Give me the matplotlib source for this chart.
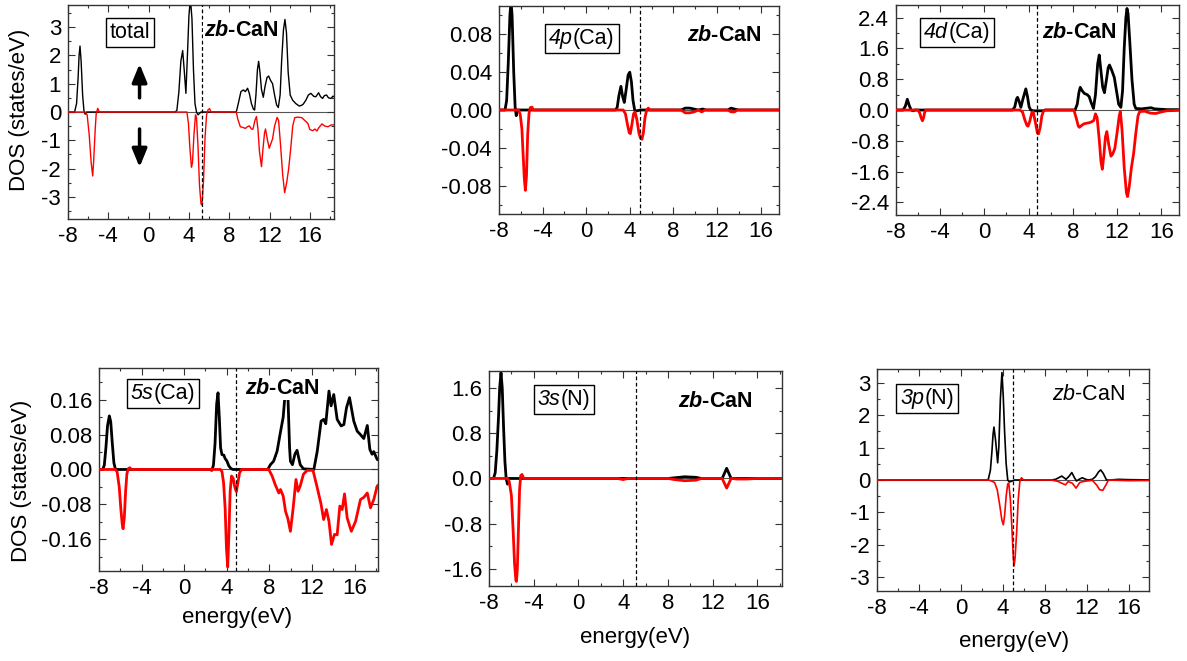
import numpy as np
import matplotlib
matplotlib.use('Agg')
import matplotlib.pyplot as plt
from matplotlib.ticker import MultipleLocator, FormatStrFormatter
from matplotlib.patches import Rectangle
from matplotlib.transforms import IdentityTransform

plt.rcParams['font.family'] = 'Liberation Sans'
plt.rcParams['axes.unicode_minus'] = False
plt.rcParams['mathtext.fontset'] = 'custom'
plt.rcParams['mathtext.rm'] = 'Liberation Sans'
plt.rcParams['mathtext.it'] = 'Liberation Sans:italic'
plt.rcParams['mathtext.bf'] = 'Liberation Sans:bold'
plt.rcParams['mathtext.bfit'] = 'Liberation Sans:bold:italic'

# spin-resolved DOS of zb-CaN, (energy eV, states/eV) pairs
tot_up = [(-8, 0), (-7.35, 0), (-7.15, 0.3), (-7.0, 1.2), (-6.9, 2.0), (-6.81, 2.33), (-6.7, 1.8), (-6.55, 0.6),
          (-6.42, 0.05), (-6.3, -0.08), (-6.15, 0),
          (2.6, 0), (2.8, 0.05), (3.0, 0.7), (3.2, 1.8), (3.38, 2.17), (3.55, 1.4), (3.7, 0.66), (3.85, 2.0),
          (4.0, 3.4), (4.15, 4.0), (4.3, 3.3), (4.45, 1.5), (4.6, 0.3), (4.75, 0), (4.9, -0.1), (5.05, -0.05), (5.2, 0),
          (8.7, 0), (8.9, 0.3), (9.16, 0.72), (9.4, 0.78), (9.6, 0.72), (9.82, 0.84), (10.0, 0.65), (10.2, 0.3),
          (10.4, 0.1), (10.52, 0.07), (10.65, 0.6), (10.8, 1.5), (10.92, 1.79), (11.05, 1.4), (11.2, 0.8),
          (11.38, 0.52), (11.55, 0.9), (11.75, 1.22), (11.91, 1.27), (12.1, 1.12), (12.3, 1.0), (12.5, 0.6),
          (12.7, 0.25), (12.87, 0.16), (13.05, 0.6), (13.2, 1.8), (13.38, 2.9), (13.53, 3.27), (13.68, 2.8),
          (13.85, 1.4), (14.05, 0.6), (14.29, 0.42), (14.6, 0.3), (14.95, 0.21), (15.2, 0.24), (15.35, 0.28),
          (15.61, 0.42), (15.85, 0.6), (16.1, 0.66), (16.4, 0.55), (16.6, 0.54), (16.87, 0.68), (17.05, 0.55),
          (17.26, 0.48), (17.45, 0.58), (17.66, 0.6), (17.85, 0.5), (18.09, 0.48), (18.3, 0.56), (18.5, 0.52)]
tot_dn = [(-8, 0), (-6.3, 0), (-6.1, -0.1), (-5.9, -0.8), (-5.7, -1.8), (-5.55, -2.26), (-5.45, -1.7), (-5.3, -0.6),
          (-5.2, -0.05), (-5.05, 0.13), (-4.9, 0),
          (3.8, 0), (3.95, -0.4), (4.1, -1.3), (4.25, -1.95), (4.35, -1.8), (4.5, -0.8), (4.65, -0.1), (4.75, -0.2),
          (4.9, -1.2), (5.05, -2.6), (5.2, -3.25), (5.3, -3.29), (5.45, -2.4), (5.6, -0.9), (5.75, -0.1), (5.9, 0.08),
          (6.05, 0.12), (6.2, 0),
          (8.7, 0), (8.85, -0.25), (9.1, -0.52), (9.4, -0.55), (9.6, -0.58), (9.8, -0.52), (10.0, -0.49), (10.2, -0.6),
          (10.35, -0.61), (10.55, -0.3), (10.7, -0.16), (10.85, -0.6), (11.0, -1.4), (11.2, -1.93), (11.35, -1.3),
          (11.5, -0.75), (11.6, -0.6), (11.8, -1.0), (11.97, -1.28), (12.15, -1.1), (12.3, -0.95), (12.5, -0.5),
          (12.75, -0.19), (12.9, -0.3), (13.1, -1.2), (13.3, -2.2), (13.5, -2.85), (13.7, -2.5), (13.9, -2.0),
          (14.1, -1.3), (14.3, -0.5), (14.5, -0.2), (14.8, -0.18), (15.2, -0.2), (15.5, -0.3), (15.8, -0.4),
          (16.0, -0.62), (16.3, -0.66), (16.5, -0.6), (16.7, -0.67), (16.9, -0.55), (17.2, -0.42), (17.5, -0.5),
          (17.8, -0.52), (18.1, -0.46), (18.5, -0.45)]

ca4p_up = [(-8, 0), (-7.45, 0), (-7.3, 0.01), (-7.15, 0.05), (-7.0, 0.1), (-6.9, 0.115), (-6.8, 0.1), (-6.65, 0.04),
           (-6.52, 0.003), (-6.42, -0.006), (-6.3, 0),
           (2.7, 0), (2.85, 0.003), (3.0, 0.015), (3.19, 0.025), (3.35, 0.014), (3.5, 0.008), (3.65, 0.02),
           (3.85, 0.037), (4.0, 0.04), (4.15, 0.03), (4.3, 0.01), (4.45, 0), (4.6, -0.001), (5.0, 0),
           (8.7, 0), (9.1, 0.002), (9.5, 0.002), (9.9, 0.001), (10.3, 0), (10.7, 0.001), (11.0, 0), (13.0, 0),
           (13.3, 0.002), (13.6, 0.001), (14.0, 0), (18.5, 0)]
ca4p_dn = [(-8, 0), (-6.2, 0), (-6.05, -0.005), (-5.9, -0.02), (-5.8, -0.044), (-5.68, -0.072), (-5.58, -0.085),
           (-5.48, -0.07), (-5.37, -0.026), (-5.25, -0.004), (-5.13, 0.0025), (-4.97, 0.003), (-4.85, 0),
           (3.4, 0), (3.6, -0.004), (3.8, -0.016), (3.95, -0.024), (4.05, -0.025), (4.2, -0.015), (4.35, -0.004),
           (4.48, -0.002), (4.65, -0.01), (4.85, -0.025), (5.0, -0.03), (5.12, -0.031), (5.25, -0.024),
           (5.4, -0.008), (5.55, 0), (5.7, 0.002), (5.85, 0),
           (8.7, 0), (9.1, -0.003), (9.5, -0.003), (9.9, -0.002), (10.3, 0), (10.6, -0.002), (10.9, 0), (13.0, 0),
           (13.3, -0.002), (13.6, -0.002), (13.9, 0), (18.5, 0)]

ca4d_up = [(-8, 0), (-7.35, 0), (-7.15, 0.1), (-6.97, 0.28), (-6.8, 0.12), (-6.62, 0), (-6.45, -0.02), (-6.3, 0),
           (2.55, 0), (2.75, 0.08), (2.9, 0.28), (3.0, 0.33), (3.15, 0.22), (3.3, 0.07), (3.5, 0.3), (3.75, 0.55),
           (3.9, 0.35), (4.05, 0.08), (4.2, 0), (4.4, -0.02), (5.3, -0.02), (5.5, 0),
           (8.2, 0), (8.4, 0.15), (8.55, 0.45), (8.67, 0.59), (8.85, 0.5), (9.05, 0.43), (9.3, 0.4), (9.48, 0.35),
           (9.65, 0.2), (9.87, 0.04), (10.05, 0.4), (10.25, 1.2), (10.39, 1.43), (10.55, 1.0), (10.7, 0.6),
           (10.86, 0.45), (11.05, 0.8), (11.2, 1.1), (11.32, 1.17), (11.5, 1.05), (11.75, 0.85), (11.95, 0.5),
           (12.15, 0.15), (12.35, 0.07), (12.5, 0.5), (12.65, 1.6), (12.8, 2.4), (12.9, 2.64), (13.0, 2.5),
           (13.15, 1.8), (13.35, 0.8), (13.55, 0.15), (13.7, 0.04), (14.2, 0.03), (14.8, 0.05), (15.07, 0.06),
           (15.4, 0.03), (16.0, 0.02), (16.5, 0.01), (18.5, 0.01)]
ca4d_dn = [(-8, 0), (-6.0, 0), (-5.85, -0.08), (-5.7, -0.22), (-5.6, -0.28), (-5.5, -0.2), (-5.4, -0.06), (-5.3, 0),
           (3.2, 0), (3.45, -0.05), (3.65, -0.25), (3.85, -0.4), (3.95, -0.42), (4.1, -0.3), (4.3, -0.06),
           (4.42, -0.05), (4.6, -0.3), (4.8, -0.6), (4.9, -0.62), (5.05, -0.45), (5.2, -0.15), (5.35, -0.03), (5.5, 0),
           (8.1, 0), (8.3, -0.2), (8.5, -0.42), (8.6, -0.45), (8.8, -0.4), (9.0, -0.36), (9.3, -0.34), (9.5, -0.33),
           (9.75, -0.3), (9.9, -0.27), (10.05, -0.1), (10.2, -0.2), (10.4, -0.8), (10.55, -1.35), (10.67, -1.54),
           (10.8, -1.2), (10.95, -0.7), (11.08, -0.56), (11.25, -0.9), (11.45, -1.2), (11.6, -1.15), (11.8, -1.0),
           (12.0, -0.6), (12.2, -0.15), (12.3, -0.04), (12.45, -0.5), (12.65, -1.5), (12.85, -2.15), (12.95, -2.25),
           (13.1, -2.0), (13.3, -1.5), (13.5, -1.13), (13.7, -0.6), (13.9, -0.15), (14.05, -0.04), (14.5, -0.03),
           (15.0, -0.08), (15.5, -0.09), (16.0, -0.05), (16.5, -0.02), (18.5, 0)]

ca5s_up = [(-8, 0), (-7.65, 0), (-7.5, 0.01), (-7.35, 0.05), (-7.2, 0.1), (-7.03, 0.123), (-6.9, 0.11), (-6.75, 0.06),
           (-6.6, 0.015), (-6.45, 0), (-6.3, 0),
           (2.4, 0), (2.6, -0.002), (2.75, 0.01), (2.9, 0.06), (3.05, 0.15), (3.18, 0.176), (3.3, 0.12), (3.42, 0.05),
           (3.55, 0.034), (3.72, 0.033), (3.85, 0.025), (4.0, 0.02), (4.2, 0.008), (4.4, 0.002), (4.6, 0),
           (7.85, 0), (8.1, 0.011), (8.4, 0.019), (8.73, 0.042), (8.98, 0.077), (9.15, 0.1), (9.3, 0.12),
           (9.45, 0.165), (9.6, 0.2), (9.75, 0.165), (9.9, 0.05), (9.98, 0.019), (10.17, 0.011), (10.4, 0.035),
           (10.6, 0.044), (10.9, 0.011), (11.2, 0.0015), (12.18, 0), (12.5, 0.042), (12.86, 0.111), (13.1, 0.115),
           (13.3, 0.105), (13.6, 0.18), (13.8, 0.146), (14.05, 0.172), (14.37, 0.115), (14.74, 0.1), (15.0, 0.103),
           (15.25, 0.142), (15.53, 0.165), (15.93, 0.111), (16.25, 0.088), (16.56, 0.08), (16.87, 0.071),
           (17.2, 0.101), (17.44, 0.046), (17.65, 0.035), (17.81, 0.041), (18.13, 0.023), (18.5, 0.02)]
ca5s_dn = [(-8, 0), (-6.45, 0), (-6.3, -0.005), (-6.1, -0.04), (-5.95, -0.09), (-5.82, -0.125), (-5.74, -0.136),
           (-5.62, -0.11), (-5.5, -0.05), (-5.38, -0.01), (-5.25, 0.002), (-5.1, 0.004), (-4.95, 0),
           (3.4, 0), (3.55, -0.005), (3.7, -0.03), (3.85, -0.09), (3.97, -0.18), (4.09, -0.224), (4.2, -0.15),
           (4.32, -0.05), (4.45, -0.015), (4.6, -0.02), (4.75, -0.04), (4.9, -0.051), (5.05, -0.03), (5.2, -0.008),
           (5.4, 0),
           (7.95, 0), (8.26, -0.015), (8.57, -0.036), (8.89, -0.054), (9.05, -0.046), (9.3, -0.061), (9.52, -0.096),
           (9.74, -0.113), (9.98, -0.142), (10.24, -0.088), (10.5, -0.023), (10.7, -0.05), (10.9, -0.038),
           (11.2, -0.011), (11.55, -0.002), (12.1, -0.002), (12.5, -0.042), (12.86, -0.08), (13.1, -0.115),
           (13.36, -0.092), (13.6, -0.119), (13.84, -0.172), (14.12, -0.149), (14.37, -0.15), (14.62, -0.084),
           (14.84, -0.092), (15.06, -0.056), (15.31, -0.111), (15.7, -0.142), (16.1, -0.119), (16.56, -0.069),
           (16.87, -0.064), (17.2, -0.054), (17.5, -0.088), (17.81, -0.069), (18.13, -0.038), (18.5, -0.03)]

n3s_up = [(-8, 0), (-7.6, 0), (-7.45, 0.1), (-7.3, 0.5), (-7.15, 1.1), (-7.05, 1.6), (-6.93, 1.87), (-6.82, 1.6),
          (-6.7, 0.9), (-6.58, 0.3), (-6.47, 0), (-6.35, -0.1), (-6.25, 0),
          (8.0, 0), (8.5, 0.01), (9.5, 0.03), (10.5, 0.02), (11.0, 0), (12.85, 0), (13.25, 0.18), (13.65, 0),
          (18.5, 0)]
n3s_dn = [(-8, 0), (-6.35, 0), (-6.2, -0.05), (-6.0, -0.3), (-5.85, -0.9), (-5.72, -1.5), (-5.6, -1.8),
          (-5.55, -1.82), (-5.47, -1.6), (-5.37, -0.9), (-5.27, -0.2), (-5.17, 0.05), (-5.05, 0.07), (-4.9, 0),
          (3.5, 0), (4.0, -0.02), (4.4, 0), (8.0, 0), (8.6, -0.02), (9.5, -0.04), (10.5, -0.03), (11.0, 0),
          (12.85, 0), (13.25, -0.17), (13.65, 0), (14.2, -0.01), (15.0, -0.01), (16.0, 0), (18.5, 0)]

n3p_up = [(-8, 0), (2.4, 0), (2.6, 0.02), (2.8, 0.3), (2.95, 0.9), (3.05, 1.4), (3.14, 1.63), (3.3, 1.2),
          (3.49, 0.53), (3.6, 1.0), (3.75, 2.5), (3.9, 3.31), (4.02, 2.6), (4.15, 1.5), (4.3, 0.5), (4.45, 0),
          (4.6, -0.06), (4.8, -0.04), (5.1, 0),
          (8.6, 0), (9.0, 0.02), (9.3, 0.07), (9.6, 0.12), (9.8, 0.07), (10.0, 0.02), (10.3, 0.12), (10.55, 0.23),
          (10.8, 0.07), (11.0, -0.03), (11.25, 0.02), (11.55, 0.07), (11.8, 0.03), (12.1, 0), (12.5, 0.02),
          (12.8, 0.1), (13.1, 0.25), (13.3, 0.31), (13.55, 0.2), (13.85, 0), (14.2, 0), (15.0, 0.02), (16.0, 0.01),
          (18.5, 0)]
n3p_dn = [(-8, 0), (2.6, 0), (2.9, -0.03), (3.2, -0.08), (3.45, -0.3), (3.7, -0.8), (3.9, -1.25), (4.03, -1.38),
          (4.15, -1.1), (4.3, -0.5), (4.45, -0.12), (4.55, -0.1), (4.7, -0.6), (4.85, -1.5), (4.98, -2.4),
          (5.05, -2.65), (5.15, -2.4), (5.3, -1.6), (5.45, -0.6), (5.6, -0.05), (5.75, 0.07), (5.95, 0),
          (8.6, 0), (9.2, -0.04), (9.6, -0.1), (9.95, -0.15), (10.2, -0.05), (10.6, -0.1), (10.95, -0.25),
          (11.3, -0.08), (11.6, -0.05), (12.0, -0.03), (12.5, -0.01), (12.9, -0.15), (13.2, -0.3), (13.5, -0.32),
          (13.8, -0.15), (14.05, 0), (15.0, -0.01), (16.0, -0.02), (18.5, -0.01)]

# orbital labels: italic part, upright part
orbitals = [('', 'total'), ('4p', '(Ca)'), ('4d', '(Ca)'), ('5s', '(Ca)'), ('3s', '(N)'), ('3p', '(N)')]

fig = plt.figure(figsize=(11.87, 6.61), dpi=100)
renderer = fig.canvas.get_renderer()
ident = IdentityTransform()

# [left, bottom, width, height], xmax, ymax, major, minor, fmt, line width, E_F
panels = [
    (tot_up, tot_dn, [0.0573, 0.6687, 0.2241, 0.3237], 18.4, 3.78, 1, 0.5, '%d', 1.0, 5.3),
    (ca4p_up, ca4p_dn, [0.4204, 0.6763, 0.2359, 0.3146], 17.7, 0.11, 0.04, 0.02, '%.2f', 2.0, 4.97),
    (ca4d_up, ca4d_dn, [0.7548, 0.6747, 0.2384, 0.3177], 17.6, 2.73, 0.8, 0.4, '%.1f', 2.0, 4.74),
    (ca5s_up, ca5s_dn, [0.0834, 0.1362, 0.2350, 0.3071], 18.2, 0.233, 0.08, 0.04, '%.2f', 2.0, 4.9),
    (n3s_up, n3s_dn, [0.4120, 0.1135, 0.2468, 0.3253], 18.2, 1.9, 0.8, 0.4, '%.1f', 2.0, 5.16),
    (n3p_up, n3p_dn, [0.7388, 0.1059, 0.2292, 0.3359], 17.9, 3.42, 1, 0.5, '%d', 1.2, 4.98),
]
box_xy = [(0.233, 0.87), (0.296, 0.846), (0.216, 0.871), (0.229, 0.875), (0.256, 0.865), (0.184, 0.869)]
zb_xy = [(0.652, 0.88), (0.805, 0.86), (0.647, 0.871), (0.658, 0.90), (0.773, 0.856), (0.779, 0.887)]


def boxed_label(ax, cx, cy, it, rest, size=15.5, pad=4):
    # italic orbital name followed by upright atom, inside a thin frame
    px, py = ax.transAxes.transform((cx, cy))
    parts = []
    if it:
        parts.append(fig.text(0, 0, it, fontsize=size, style='italic', transform=ident, va='baseline', zorder=6))
    parts.append(fig.text(0, 0, rest, fontsize=size, transform=ident, va='baseline', zorder=6))
    widths = [t.get_window_extent(renderer).width for t in parts]
    total = sum(widths)
    x = px - total / 2
    for t, w in zip(parts, widths):
        t.set_position((x, py))
        x += w
    bbs = [t.get_window_extent(renderer) for t in parts]
    y0 = min(b.y0 for b in bbs)
    y1 = max(b.y1 for b in bbs)
    dy = py - (y0 + y1) / 2
    for t in parts:
        t.set_position((t.get_position()[0], py + dy))
    fig.add_artist(Rectangle((px - total / 2 - pad, y0 + dy - pad), total + 2 * pad,
                             y1 - y0 + 2 * pad, transform=ident, fc='white', ec='black', lw=1, zorder=5))


axes = []
for i, (up, dn, rect, xmax, ymax, major, minor, fmt, lw, ef) in enumerate(panels):
    ax = fig.add_axes(rect)
    up = np.array(up)
    dn = np.array(dn)
    ax.axhline(0, color='#555555', lw=0.8, zorder=1)
    ax.plot(up[:, 0], up[:, 1], color='black', lw=lw, zorder=2)
    ax.plot(dn[:, 0], dn[:, 1], color='red', lw=lw, zorder=3)
    ax.axvline(ef, color='black', lw=0.9, ls=(0, (3, 2)), zorder=4)
    ax.set_xlim(-8, xmax)
    ax.set_ylim(-ymax, ymax)
    ax.xaxis.set_major_locator(MultipleLocator(4))
    ax.xaxis.set_minor_locator(MultipleLocator(2))
    ax.yaxis.set_major_locator(MultipleLocator(major))
    ax.yaxis.set_minor_locator(MultipleLocator(minor))
    ax.yaxis.set_major_formatter(FormatStrFormatter(fmt))
    ax.tick_params(which='both', direction='in', top=True, right=True, labelsize=16, pad=5,
                   color='#333333', width=0.8)
    ax.tick_params(which='major', length=5)
    ax.tick_params(which='minor', length=2.5)
    for s in ax.spines.values():
        s.set_color('#333333')
        s.set_linewidth(1.0)

    boxed_label(ax, *box_xy[i], *orbitals[i])
    if i == 5:
        ax.text(*zb_xy[i], r'$\mathit{zb}$-CaN', transform=ax.transAxes, fontsize=15.5, ha='center',
                va='center', zorder=6)
    else:
        ax.text(*zb_xy[i], r'$\mathbfit{zb}$-CaN', transform=ax.transAxes, fontsize=15.5, ha='center',
                va='center', fontweight='bold', zorder=6,
                bbox=dict(boxstyle='square,pad=0.05', fc='white', ec='none'))
    axes.append(ax)

# spin-up / spin-down arrows on the total DOS
arrow = dict(arrowstyle='-|>,head_width=0.45,head_length=1.1', color='black', lw=2.5, shrinkA=0, shrinkB=0)
axes[0].annotate('', xy=(-0.9, 1.7), xytext=(-0.9, 0.5), arrowprops=arrow)
axes[0].annotate('', xy=(-0.9, -1.95), xytext=(-0.9, -0.6), arrowprops=arrow)

fig.text(20 / 1187, 1 - 110 / 661, 'DOS (states/eV)', rotation=90, ha='center', va='center', fontsize=16)
fig.text(22 / 1187, 1 - 481 / 661, 'DOS (states/eV)', rotation=90, ha='center', va='center', fontsize=16)
fig.text(237 / 1187, 1 - 618 / 661, 'energy(eV)', ha='center', va='center', fontsize=16)
fig.text(635 / 1187, 1 - 638 / 661, 'energy(eV)', ha='center', va='center', fontsize=16)
fig.text(1014 / 1187, 1 - 642 / 661, 'energy(eV)', ha='center', va='center', fontsize=16)

fig.savefig('out.png', dpi=100)
